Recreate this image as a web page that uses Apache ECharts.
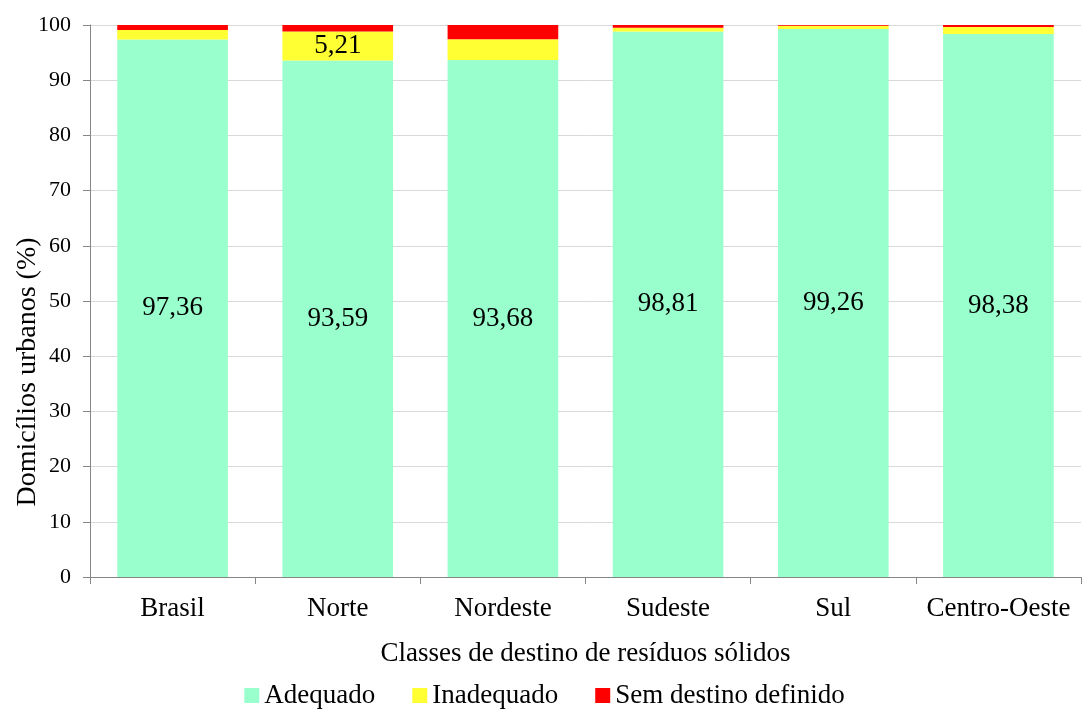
<!DOCTYPE html>
<html><head><meta charset="utf-8">
<script src="https://cdn.jsdelivr.net/npm/echarts@6/dist/echarts.min.js"></script>
<style>html,body{margin:0;padding:0;background:#fff}#c{width:1089px;height:709px}</style>
</head><body><div id="c"></div>
<script>
const categories = ['Brasil','Norte','Nordeste','Sudeste','Sul','Centro-Oeste'];
const adequado = [97.36, 93.59, 93.68, 98.81, 99.26, 98.38];
const inadequado = [1.74, 5.21, 3.72, 0.69, 0.59, 1.26];
const semDestino = [0.90, 1.20, 2.60, 0.50, 0.15, 0.36];
const yTicks = [0,10,20,30,40,50,60,70,80,90,100];
const labeledInadequado = ['Norte'];
const yTitle = 'Domicílios urbanos (%)';
const xTitle = 'Classes de destino de resíduos sólidos';

const font = 'Liberation Serif, Times New Roman, serif';
const fmt = v => v.toFixed(2).replace('.', ',');
const chart = echarts.init(document.getElementById('c'));
chart.setOption({
  animation: false,
  textStyle: {fontFamily: font},
  grid: {left: 90, right: 8, top: 25, bottom: 132},
  graphic: [{
    type: 'text', x: 28, y: 372, rotation: Math.PI / 2,
    style: {text: yTitle, font: '28px ' + font, fill: '#000', align: 'center', verticalAlign: 'middle'}
  }],
  legend: {
    top: 677, left: 'center', itemWidth: 15, itemHeight: 15, itemGap: 37,
    icon: 'rect',
    textStyle: {fontFamily: font, fontSize: 27, color: '#000'},
    data: ['Adequado','Inadequado','Sem destino definido']
  },
  xAxis: {
    type: 'category', data: categories,
    name: xTitle, nameLocation: 'middle', nameGap: 63,
    nameTextStyle: {fontFamily: font, fontSize: 27, color: '#000'},
    axisLine: {lineStyle: {color: '#868686'}},
    axisTick: {show: true, interval: 0, length: 7, lineStyle: {color: '#868686'}},
    axisLabel: {interval: 0, fontFamily: font, fontSize: 27, color: '#000', margin: 18}
  },
  yAxis: {
    type: 'value', min: 0, max: 100, interval: 10,
    axisLine: {show: true, lineStyle: {color: '#868686'}},
    axisTick: {show: true, length: 7, lineStyle: {color: '#868686'}},
    axisLabel: {fontFamily: font, fontSize: 22, color: '#000', margin: 19,
      formatter: v => yTicks.includes(v) ? String(v) : ''},
    splitLine: {lineStyle: {color: '#d9d9d9'}}
  },
  series: [
    {name: 'Adequado', type: 'bar', stack: 's', barCategoryGap: '33%', data: adequado,
     itemStyle: {color: '#99ffcc'},
     label: {show: true, position: 'inside', fontFamily: font, fontSize: 27, color: '#000',
       formatter: p => fmt(p.value)}},
    {name: 'Inadequado', type: 'bar', stack: 's', data: inadequado,
     itemStyle: {color: '#ffff33'},
     label: {show: true, position: 'inside', fontFamily: font, fontSize: 27, color: '#000',
       formatter: p => labeledInadequado.includes(p.name) ? fmt(p.value) : ''}},
    {name: 'Sem destino definido', type: 'bar', stack: 's', data: semDestino,
     itemStyle: {color: '#ff0000'}}
  ]
});
</script></body></html>
